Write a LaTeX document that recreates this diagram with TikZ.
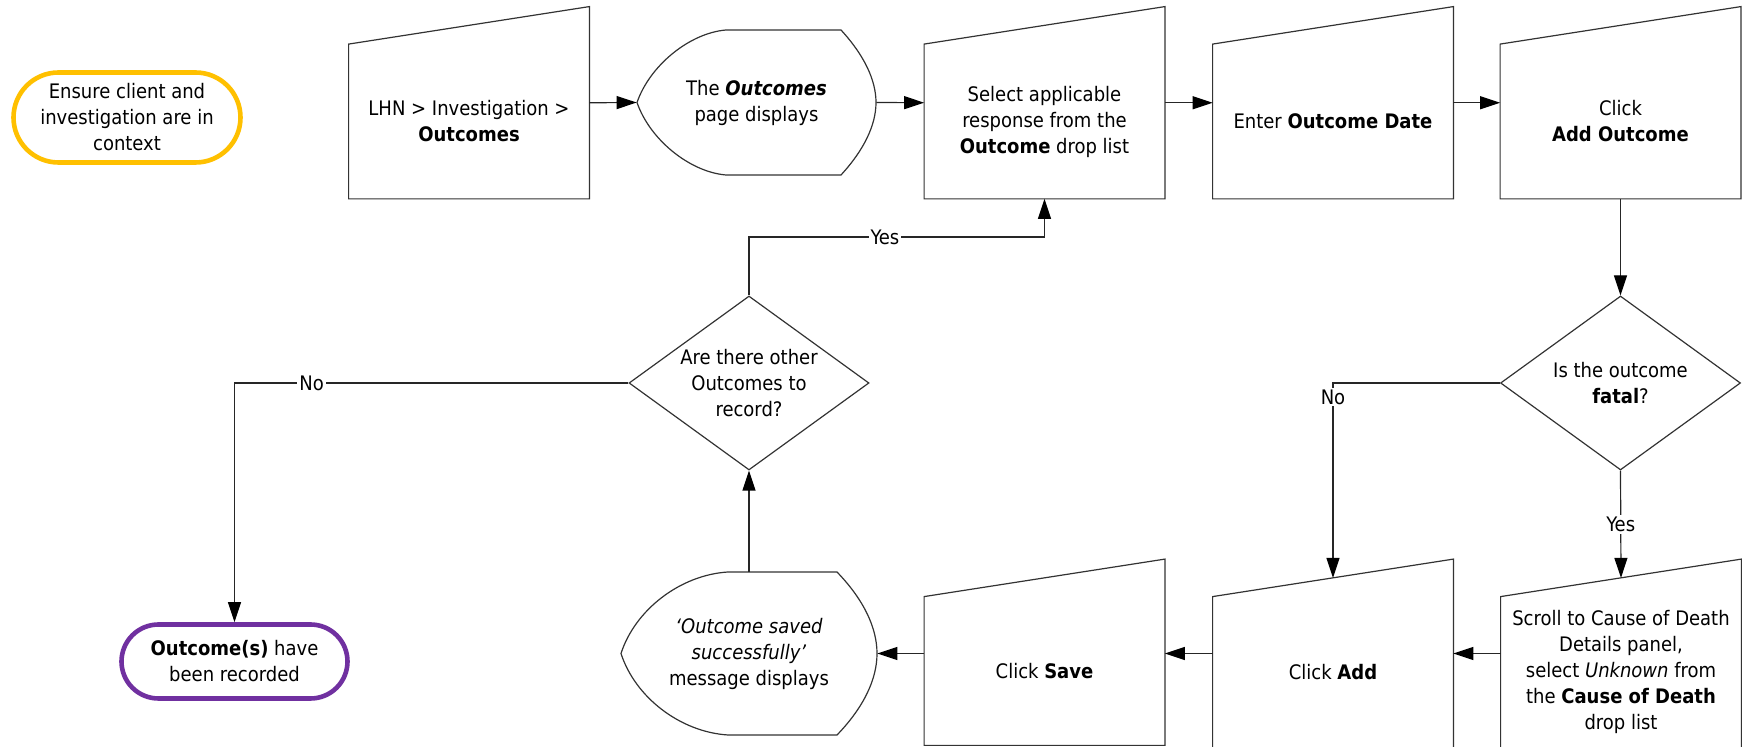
\documentclass[tikz,border=0pt]{standalone}
\usepackage{fontspec}
\IfFontExistsTF{DejaVu Sans Condensed}{\setmainfont{DejaVu Sans Condensed}}{\setmainfont{Liberation Sans}}
\usetikzlibrary{arrows.meta,shapes.geometric,calc}
\definecolor{termyellow}{RGB}{255,192,0}
\definecolor{termpurple}{RGB}{112,48,160}
\tikzset{
  txt/.style={align=center, inner sep=0pt, font=\fontsize{10}{13}\selectfont},
  minput/.style={txt, minimum width=120pt, minimum height=#1},
  dispbox/.style={txt},
  outline/.style={draw=black!80, line width=0.6pt},
  decis/.style={diamond, outline, inner sep=0pt, minimum width=120pt, minimum height=87pt},
  term/.style={txt, draw, line width=2.3pt},
  conn/.style={draw=black!85, line width=0.6pt},
  arr/.style={conn, -{Triangle[length=10pt,width=6.5pt,color=black]}},
  lbl/.style={txt, fill=white, inner sep=1pt}
}
\begin{document}
\begin{tikzpicture}[x=0.5pt,y=-0.5pt]
\useasboundingbox (0,0) rectangle (1742,747);

% start terminal
\node[term, draw=termyellow, minimum width=113.5pt, minimum height=45pt, rounded corners=22.5pt]
  (start) at (127,117.5) {Ensure client and\\investigation are in\\context};

% top row manual inputs
\node[minput=77pt] (b1) at (469,121.5) {LHN > Investigation >\\\textbf{Outcomes}};
\node[dispbox, minimum width=119.5pt, minimum height=72.5pt] (d1) at (756.5,102.5) {The \textbf{\textit{Outcomes}}\\page displays};
\node[minput=77pt] (b3) at (1044.5,121.5) {Select applicable\\response from the\\\textbf{Outcome} drop list};
\node[minput=77pt] (b4) at (1333,121.5) {Enter \textbf{Outcome Date}};
\node[minput=77pt] (b5) at (1620.5,121.5) {Click\\\textbf{Add Outcome}};

% decisions
\node[decis] (q1) at (1620.5,383) {};
\node[txt] (q1t) at (q1) {Is the outcome\\\textbf{fatal}?};
\node[decis] (q2) at (749,383) {};
\node[txt] (q2t) at (q2) {Are there other\\Outcomes to\\record?};

% bottom row
\node[minput=75.25pt] (scroll) at (1621,672.25) {Scroll to Cause of Death\\Details panel,\\select \textit{Unknown} from\\the \textbf{Cause of Death}\\drop list};
\node[minput=75.25pt] (add) at (1333,672.25) {Click \textbf{Add}};
\node[minput=74pt] (save) at (1044.5,671) {Click \textbf{Save}};
\node[dispbox, minimum width=128pt, minimum height=81.5pt] (d2) at (749,653.5) {\textit{`Outcome saved}\\\textit{successfully'}\\message displays};

% end terminal
\node[term, draw=termpurple, minimum width=113pt, minimum height=37pt, rounded corners=18.5pt]
  (end) at (234.5,661.5) {\textbf{Outcome(s)} have\\been recorded};

% manual input outlines
\foreach \n in {b1,b3,b4,b5,scroll,add,save}{
  \draw[outline] (\n.south west) -- (\n.north west) -- ([yshift=18.75pt]\n.north east) -- (\n.south east) -- cycle;
}

% display outlines
\draw[outline] (637,102.5) .. controls (650,65) and (690,33) .. (726,30) -- (841,30)
  .. controls (864,55) and (876,80) .. (876,102.5)
  .. controls (876,125) and (864,150) .. (841,175) -- (726,175)
  .. controls (690,172) and (650,140) .. cycle;
\draw[outline] (621,653.5) .. controls (635,610) and (680,575) .. (728,572) -- (837,572)
  .. controls (864,600) and (877,628) .. (877,653.5)
  .. controls (877,679) and (864,707) .. (837,735) -- (728,735)
  .. controls (680,732) and (635,697) .. cycle;

% connectors
\coordinate (yesy) at (0,237);
\draw[arr] ([yshift=9.375pt]b1.east) -- (d1.west);
\draw[arr] (d1.east) -- ([yshift=9.375pt]b3.west);
\draw[arr] ([yshift=9.375pt]b3.east) -- ([yshift=9.375pt]b4.west);
\draw[arr] ([yshift=9.375pt]b4.east) -- ([yshift=9.375pt]b5.west);
\draw[arr] (b5.south) -- (q1.north);
\draw[arr] (q1.west) -| node[lbl, pos=0.536]{No} ([yshift=9.375pt]add.north);
\draw[arr] (q1.south) -- node[lbl]{Yes} ([yshift=9.375pt]scroll.north);
\draw[arr] ([yshift=9.375pt]scroll.west) -- ([yshift=9.375pt]add.east);
\draw[arr] ([yshift=9.375pt]add.west) -- (save.east |- d2.east);
\draw[arr] (save.west |- d2.east) -- (d2.east);
\draw[arr] (d2.north) -- (q2.south);
\draw[arr] (q2.north) -- (q2.north |- yesy) -| node[lbl, pos=0.23]{Yes} (b3.south);
\draw[arr] (q2.west) -| node[lbl, pos=0.402]{No} (end.north);
\end{tikzpicture}
\end{document}
